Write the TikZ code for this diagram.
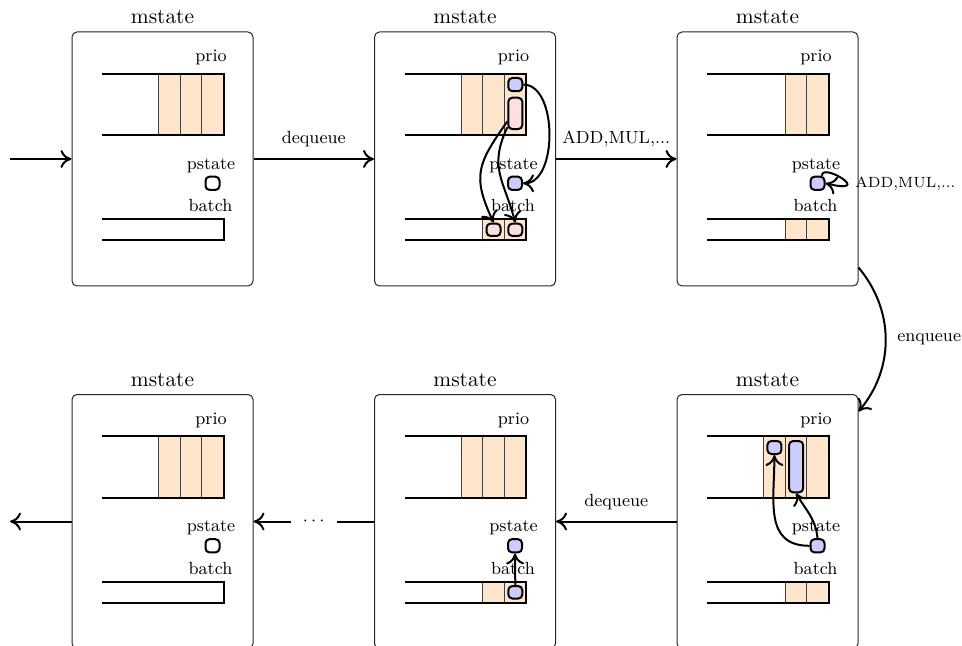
\documentclass[tikz,border=0pt]{standalone}
\usetikzlibrary{arrows.meta}

\definecolor{cellfill}{RGB}{255,229,204}
\definecolor{itemblue}{RGB}{204,204,255}
\definecolor{itempink}{RGB}{255,224,226}

\tikzset{
  mframe/.style={draw=black!85, line width=0.5pt, rounded corners=2.5pt,
    minimum width=90.5pt, minimum height=127pt, inner sep=0pt},
  ttl/.style={font=\fontsize{10.7}{12}\selectfont, inner sep=0pt},
  lab/.style={font=\fontsize{8.8}{10}\selectfont, inner sep=0pt},
  elabel/.style={font=\fontsize{8.8}{10}\selectfont},
  smalllabel/.style={font=\fontsize{7.4}{9}\selectfont},
  qline/.style={line width=1pt},
  divider/.style={line width=0.5pt, draw=black!75},
  arr/.style={line width=1pt, -{Computer Modern Rightarrow[length=5.5pt,width=9pt]}},
  elt/.style={draw, line width=1pt, rounded corners=2pt,
    minimum width=7pt, minimum height=6.6pt, inner sep=0pt},
  blueelt/.style={elt, fill=itemblue},
  pinkelt/.style={elt, fill=itempink},
  emptyelt/.style={elt, fill=white},
}

% one machine state: name, left, top, prio cells, batch cells, pstate style
\newcommand\statebox[6]{%
  \node[mframe] (#1) at (#2+90.5, #3+127) {};
  \node[ttl] at (#2+90.5, #3-14.5) {mstate};
  \node[lab] at (#2+139, #3+25.5) {prio};
  \node[lab] at (#2+139, #3+133.3) {pstate};
  \node[lab] at (#2+138.5, #3+173.8) {batch};
  \fill[cellfill] ({#2+151.6-#4*21.67}, #3+41.6) rectangle (#2+151.6, #3+103.3);
  \foreach \k in {1,...,#4} {
    \draw[divider] ({#2+151.6-\k*21.67}, #3+41.6) -- ++(0, 61.7);
  }
  \ifnum#5>0
    \fill[cellfill] ({#2+151.6-#5*21.67}, #3+187.3) rectangle (#2+151.6, #3+208.3);
    \foreach \k in {1,...,#5} {
      \draw[divider] ({#2+151.6-\k*21.67}, #3+187.3) -- ++(0, 21);
    }
  \fi
  \draw[qline] (#2+30, #3+41.6) -| (#2+151.6, #3+103.3) -- (#2+30, #3+103.3);
  \draw[qline] (#2+30, #3+187.3) -| (#2+151.6, #3+208.3) -- (#2+30, #3+208.3);
  \node[#6] (#1s) at (#2+140.5, #3+151.3) {};
}

\begin{document}
\begin{tikzpicture}[x=0.5pt, y=-0.5pt]
  \useasboundingbox (0,0) rectangle (962,646);
  \clip (0,0) rectangle (962,646);

  % top row
  \statebox{m1}{72}{32}{3}{0}{emptyelt}
  \statebox{m2}{374.5}{32}{3}{2}{blueelt}
  \statebox{m3}{677}{32}{2}{2}{blueelt}
  % bottom row
  \statebox{m4}{677}{394.5}{3}{2}{blueelt}
  \statebox{m5}{374.5}{394.5}{3}{2}{blueelt}
  \statebox{m6}{72}{394.5}{3}{0}{emptyelt}

  % contents of the second state
  \node[blueelt] (b2p) at (515.3, 84.6) {};
  \node[pinkelt, minimum height=15.65pt] (b2t) at (515.3, 113.4) {};
  \node[pinkelt, minimum height=6.2pt] (b2a) at (493.6, 229.8) {};
  \node[pinkelt, minimum height=6.2pt] (b2b) at (515.3, 229.8) {};
  \draw[arr] (b2p.east) to[out=0, in=0, looseness=0.9] (m2s.east);
  \draw[arr] (b2t.225) to[out=235, in=115, looseness=1.3] (b2a.north);
  \draw[arr] (b2t.240) to[out=245, in=105, looseness=1.2] (b2b.north);

  % self loop on the third state
  \draw[arr] (m3s.60) .. controls +(0,7pt) and +(25pt,-6pt) .. (m3s.east);
  \node[smalllabel, anchor=west, inner sep=0pt] (oplabel) at (855, 183.3) {ADD,MUL,...};

  % contents of the fourth state
  \node[blueelt, minimum height=6.5pt] (b4p) at (774.4, 447.5) {};
  \node[blueelt, minimum height=25.65pt] (b4t) at (796.1, 466.7) {};
  \draw[arr] (m4s.west) to[out=180, in=-90, looseness=1.2] (b4p.south);
  \draw[arr] (m4s.north) to[out=95, in=-60] (b4t.south);

  % contents of the fifth state
  \node[blueelt, minimum height=6.2pt] (b5b) at (515.3, 592.3) {};
  \draw[arr] (b5b.north) -- (m5s.south);

  % transitions between states
  \coordinate (start) at (10, 159);
  \coordinate (finish) at (10, 521.5);
  \draw[arr] (start) -- (m1.west);
  \draw[arr] (m1.east) -- node[elabel, above=2pt] {dequeue} (m2.west);
  \draw[arr] (m2.east) -- node[elabel, above=2pt] {ADD,MUL,...} (m3.west);
  \draw[arr] ([yshift=9.5pt]m3.south east) to[out=-50, in=50]
    node[elabel, right=2pt] {enqueue} ([yshift=-8.75pt]m4.north east);
  \draw[arr] (m4.west) -- node[elabel, above=2pt] {dequeue} (m5.east);
  \draw[arr] (m5.west) -- node[elabel, fill=white, inner xsep=6pt] {$\cdots$} (m6.east);
  \draw[arr] (m6.west) -- (finish);
\end{tikzpicture}
\end{document}
